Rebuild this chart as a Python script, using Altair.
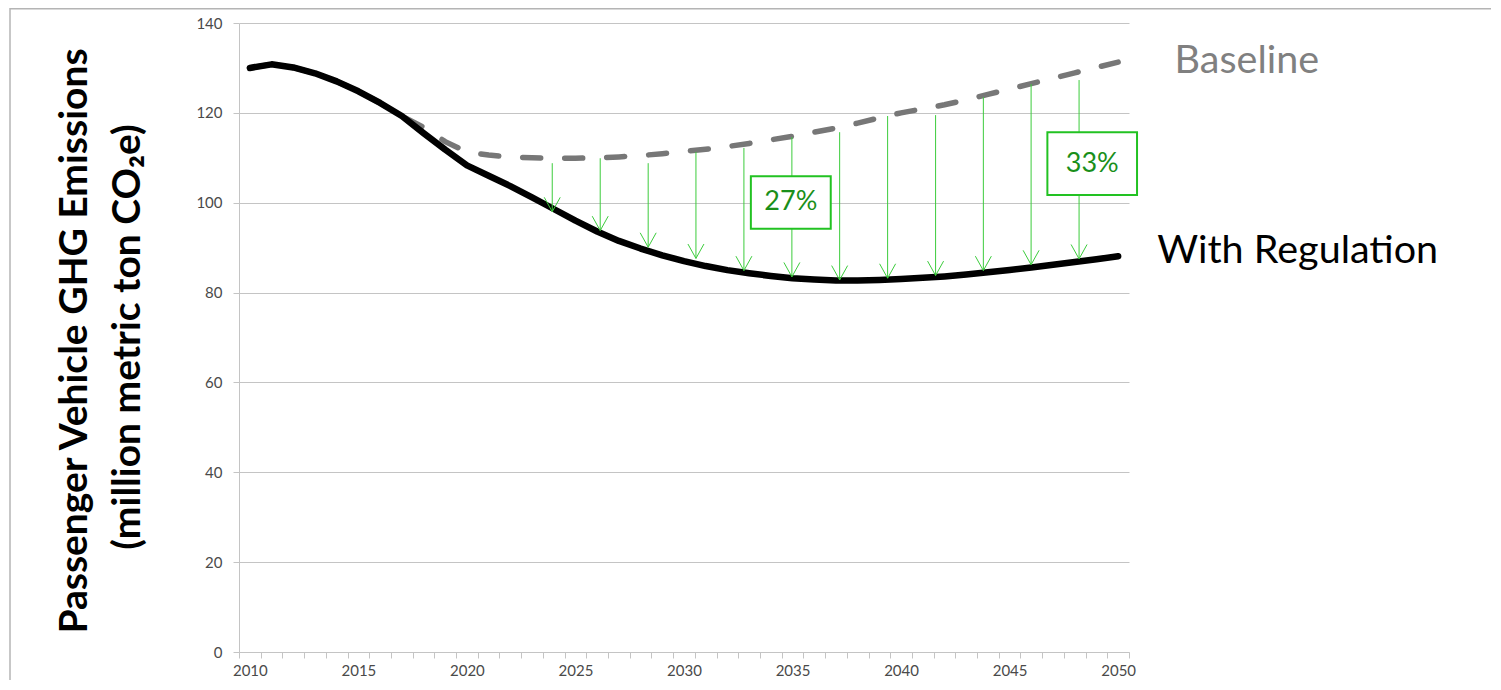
import altair as alt
import pandas as pd

# ---------------- data ----------------
years = list(range(2010, 2051))
with_regulation = [130.0, 130.8, 130.1, 128.8, 127.0, 124.8, 122.2, 119.3, 115.5, 111.8,
                   108.3, 106.0, 103.7, 101.2, 98.6, 96.0, 93.6, 91.5, 89.8, 88.3,
                   87.0, 85.9, 85.0, 84.3, 83.7, 83.2, 82.9, 82.7, 82.7, 82.8,
                   83.0, 83.3, 83.6, 84.0, 84.5, 85.0, 85.6, 86.2, 86.8, 87.4, 88.1]
baseline = [130.0, 130.8, 130.1, 128.8, 127.0, 124.8, 122.2, 119.3, 116.8, 113.6,
            111.3, 110.6, 110.2, 110.0, 109.9, 109.9, 110.0, 110.2, 110.5, 110.9,
            111.4, 111.9, 112.5, 113.2, 114.0, 114.8, 115.7, 116.6, 117.7, 118.9,
            120.0, 120.9, 121.8, 122.9, 124.1, 125.3, 126.5, 127.7, 128.9, 130.1, 131.3]

arrow_years = [2023.93, 2026.14, 2028.35, 2030.55, 2032.76, 2034.97,
               2037.17, 2039.38, 2041.59, 2043.79, 2045.99, 2048.20]
arrow_from = [108.8, 109.9, 108.8, 111.3, 112.2, 114.6, 115.7, 119.3, 119.5, 123.5, 126.4, 127.3]
arrow_to = [98.0, 93.8, 90.1, 87.6, 84.9, 83.5, 82.8, 83.2, 83.8, 84.9, 86.2, 87.5]

box_labels = ["27%", "33%"]
box_x0 = [2033.08, 2046.74]
box_x1 = [2036.76, 2050.87]
box_y0 = [94.2, 101.7]
box_y1 = [105.9, 115.7]

series_names = ["Baseline", "With Regulation"]
series_label_x = [2052.6, 2051.8]
series_label_y = [128.9, 86.6]
series_label_colors = ["#808080", "#000000"]

y_ticks = [0, 20, 40, 60, 80, 100, 120, 140]
title_lines = ["Passenger Vehicle GHG Emissions", "(million metric ton CO\u2082e)"]

# ---------------- tables ----------------
lines_df = pd.DataFrame({"year": years, "reg": with_regulation, "base": baseline})
arrows_df = pd.DataFrame({"year": arrow_years, "top": arrow_from, "tip": arrow_to})
boxes_df = pd.DataFrame({"label": box_labels, "x0": box_x0, "x1": box_x1,
                         "y0": box_y0, "y1": box_y1})
boxes_df["xc"] = (boxes_df["x0"] + boxes_df["x1"]) / 2
boxes_df["yc"] = (boxes_df["y0"] + boxes_df["y1"]) / 2
labels_df = pd.DataFrame({"name": series_names, "x": series_label_x,
                          "y": series_label_y, "color": series_label_colors})

GRID = "#c4c4c4"
GREEN = "#3ccc3c"
LABEL = "#4a4a4a"

x_scale = alt.Scale(domain=[2009.5, 2050.5], nice=False, zero=False)
y_scale = alt.Scale(domain=[0, 140], nice=False, zero=True)

tick_positions = [y - 0.5 for y in years] + [2050.5]

x_axis = alt.Axis(
    values=tick_positions,
    labelExpr="(datum.value + 0.5) % 5 == 0 ? format(datum.value + 0.5, 'd') : ''",
    labelOffset=10.85, labelFlush=False, labelOverlap=False, labelBound=False,
    grid=False, ticks=True, tickSize=6, tickColor=GRID, domainColor=GRID,
    labelFont="Lato", labelFontSize=15, labelColor=LABEL, labelPadding=5,
    title=None,
)
y_axis = alt.Axis(
    values=y_ticks, grid=True, gridColor=GRID, gridWidth=1,
    tickSize=6, tickColor=GRID, domainColor=GRID,
    labelFont="Lato", labelFontSize=15, labelColor=LABEL, labelPadding=11,
    title=None,
)


def X(field):
    return alt.X(field, type="quantitative", scale=x_scale, axis=x_axis)


def Y(field):
    return alt.Y(field, type="quantitative", scale=y_scale, axis=y_axis)


base_line = alt.Chart(lines_df).mark_line(
    color="#777777", strokeWidth=5.5, strokeDash=[18, 24], strokeCap="round"
).encode(x=X("year"), y=Y("base"))

reg_line = alt.Chart(lines_df).mark_line(
    color="#000000", strokeWidth=6.5, strokeCap="round", strokeJoin="round"
).encode(x=X("year"), y=Y("reg"))

shafts = alt.Chart(arrows_df).mark_rule(color=GREEN, strokeWidth=1).encode(
    x=X("year"), y=Y("top"), y2="tip:Q",
)

heads = alt.Chart(arrows_df).mark_point(
    shape="M-1,-1.8L0,0L1,-1.8", filled=False, size=256,
    stroke=GREEN, strokeWidth=1, opacity=1,
).encode(x=X("year"), y=Y("tip"))

boxes = alt.Chart(boxes_df).mark_rect(
    fill="white", stroke="#22c222", strokeWidth=2
).encode(x=X("x0"), x2="x1:Q", y=Y("y0"), y2="y1:Q")

box_text = alt.Chart(boxes_df).mark_text(
    font="Lato", fontSize=27, color="#1a8f1a", align="center", baseline="middle"
).encode(x=X("xc"), y=Y("yc"), text="label:N")

series_text = alt.Chart(labels_df).mark_text(
    font="Lato", fontSize=39.5, align="left", baseline="alphabetic"
).encode(
    x=X("x"), y=Y("y"),
    text="name:N",
    color=alt.Color("color:N", scale=None),
)

title_df = pd.DataFrame({"t": title_lines, "i": [0, 1]})
title1 = alt.Chart(title_df.iloc[[0]]).mark_text(
    font="Lato", fontSize=39, fontWeight="bold", angle=270,
    align="center", baseline="middle", color="black",
).encode(text="t:N", x=alt.value(-164), y=alt.value(318))
title2 = alt.Chart(title_df.iloc[[1]]).mark_text(
    font="Lato", fontSize=39, fontWeight="bold", angle=270,
    align="center", baseline="middle", color="black",
).encode(text="t:N", x=alt.value(-111), y=alt.value(314))

frame_df = pd.DataFrame({"a": [0]})
frame_left = alt.Chart(frame_df).mark_rule(color="#b4b4b4", strokeWidth=1.5).encode(
    x=alt.value(-229), y=alt.value(-15), y2=alt.value(659)
)
frame_top = alt.Chart(frame_df).mark_rule(color="#b4b4b4", strokeWidth=1.5).encode(
    x=alt.value(-229), x2=alt.value(1260), y=alt.value(-14.3)
)

chart = alt.layer(
    base_line, reg_line, shafts, heads, boxes, box_text, series_text,
    title1, title2, frame_left, frame_top,
).properties(
    width=890, height=629,
    autosize=alt.AutoSizeParams(type="none"),
    padding={"left": 231, "top": 15, "right": 362, "bottom": 28},
).configure_view(stroke=None)

chart.save("out.html", embed_options={"renderer": "svg", "actions": False})
